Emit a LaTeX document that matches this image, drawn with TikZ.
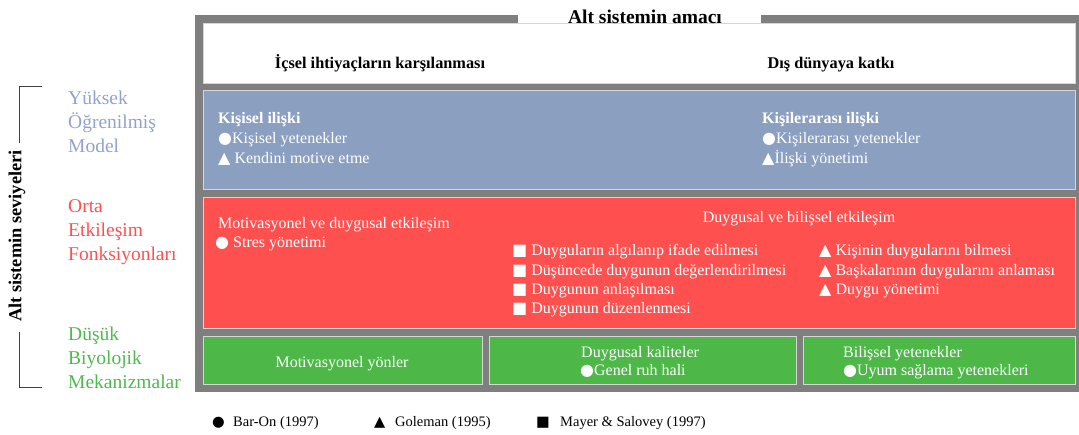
\documentclass[tikz,border=0pt]{standalone}
\usepackage{fontspec}
\setmainfont{Liberation Serif}
\newfontfamily\symf{DejaVu Sans}
\newcommand\cir{{\symf ●}}
\newcommand\tri{{\symf ▲}}
\newcommand\sqr{{\symf ■}}
\definecolor{bandgray}{HTML}{7F7F7F}
\definecolor{edgegray}{HTML}{D6D6D6}
\definecolor{bluep}{HTML}{8B9FC0}
\definecolor{redp}{HTML}{FF5050}
\definecolor{greenp}{HTML}{4DB848}
\definecolor{bluet}{HTML}{8FA3CC}
\definecolor{greent}{HTML}{4CBB4C}
\begin{document}
\begin{tikzpicture}[x=1pt,y=-1pt,
  body/.style={font=\fontsize{16}{19}\selectfont, text=white, inner sep=0, anchor=base west},
  bodyc/.style={body, anchor=base},
  head/.style={font=\bfseries\fontsize{16.3}{19}\selectfont, inner sep=0, anchor=base},
  lvl/.style={font=\fontsize{19.5}{24}\selectfont, inner sep=0, anchor=base west},
  leg/.style={font=\fontsize{14.5}{17}\selectfont, inner sep=0, anchor=base west},
  panel/.style={draw=edgegray, line width=0.8pt},
  brk/.style={draw=black!75, line width=1pt}]
\useasboundingbox (0,0) rectangle (1079,434);

% frame and bands
\fill[bandgray] (195,15) rectangle (1079,392);
\fill[white] (518,0) rectangle (761,23);
\filldraw[panel, fill=white] (203,23) rectangle (1075,83);
\filldraw[panel, fill=bluep] (203,90) rectangle (1075,189);
\filldraw[panel, fill=redp] (203,197) rectangle (1075,328);
\filldraw[panel, fill=greenp] (203,336) rectangle (482,384);
\filldraw[panel, fill=greenp] (489,336) rectangle (796,384);
\filldraw[panel, fill=greenp] (803,336) rectangle (1075,384);

% purpose header
\node[head, font=\bfseries\fontsize{19.5}{23}\selectfont] (title) at (645,23) {Alt sistemin amacı};
\node[head] (inner) at (380,68) {İçsel ihtiyaçların karşılanması};
\node[head] (outer) at (831,68) {Dış dünyaya katkı};

% upper level
\node[body, font=\bfseries\fontsize{16}{19}\selectfont] (kh) at (218,123) {Kişisel ilişki};
\node[body] (k1) at (218,143) {\cir Kişisel yetenekler};
\node[body] (k2) at (218,163) {\tri\ Kendini motive etme};
\node[body, font=\bfseries\fontsize{16}{19}\selectfont] (ih) at (762,123) {Kişilerarası ilişki};
\node[body] (i1) at (762,143) {\cir Kişilerarası yetenekler};
\node[body] (i2) at (762,163) {\tri İlişki yönetimi};

% middle level
\node[body] (mh) at (218,228) {Motivasyonel ve duygusal etkileşim};
\node[body] (m1) at (215,247) {\cir\ Stres yönetimi};
\node[bodyc] (dh) at (799,222) {Duygusal ve bilişsel etkileşim};
\node[body] (s1) at (512,255) {\sqr\ Duyguların algılanıp ifade edilmesi};
\node[body] (s2) at (512,275) {\sqr\ Düşüncede duygunun değerlendirilmesi};
\node[body] (s3) at (512,294) {\sqr\ Duygunun anlaşılması};
\node[body] (s4) at (512,313) {\sqr\ Duygunun düzenlenmesi};
\node[body] (t1) at (819,255) {\tri\ Kişinin duygularını bilmesi};
\node[body] (t2) at (819,275) {\tri\ Başkalarının duygularını anlaması};
\node[body] (t3) at (819,294) {\tri\ Duygu yönetimi};

% lower level
\node[bodyc] (g1) at (342,367) {Motivasyonel yönler};
\node[body] (g2) at (581,357) {Duygusal kaliteler};
\node[body] (g3) at (580,375) {\cir Genel ruh hali};
\node[body] (g4) at (843,357) {Bilişsel yetenekler};
\node[body] (g5) at (843,375) {\cir Uyum sağlama yetenekleri};

% level labels
\node[lvl, text=bluet] (y1) at (68,104) {Yüksek};
\node[lvl, text=bluet] (y2) at (68,128) {Öğrenilmiş};
\node[lvl, text=bluet] (y3) at (68,152) {Model};
\node[lvl, text=redp] (o1) at (68,212) {Orta};
\node[lvl, text=redp] (o2) at (68,236) {Etkileşim};
\node[lvl, text=redp] (o3) at (68,260) {Fonksiyonları};
\node[lvl, text=greent] (d1) at (68,340) {Düşük};
\node[lvl, text=greent] (d2) at (68,364) {Biyolojik};
\node[lvl, text=greent] (d3) at (68,388) {Mekanizmalar};

% levels axis
\node[rotate=90, inner sep=0, font=\bfseries\fontsize{18.4}{22}\selectfont] (axis) at (17,236) {Alt sistemin seviyeleri};
\coordinate (bt) at (42,86);
\coordinate (bb) at (42,387);
\draw[brk] (bt) -- (19,86) -- (19,143);
\draw[brk] (19,332) -- (19,387) -- (bb);

% legend
\node[leg] (l1s) at (212,426) {\cir};
\node[leg] (l1) at (233,426) {Bar-On (1997)};
\node[leg] (l2s) at (374,426) {\tri};
\node[leg] (l2) at (395,426) {Goleman (1995)};
\node[leg] (l3s) at (536,426) {\sqr};
\node[leg] (l3) at (560,426) {Mayer \& Salovey (1997)};
\end{tikzpicture}
\end{document}
